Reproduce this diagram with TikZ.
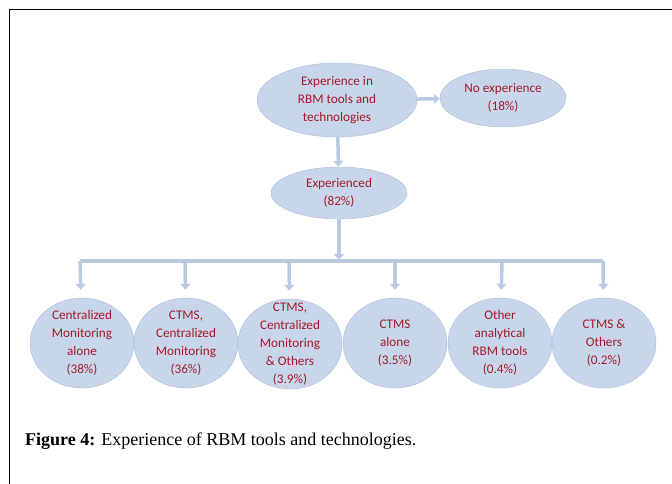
\documentclass[tikz,border=0pt]{standalone}
\usepackage{fontspec}
\setmainfont{Liberation Serif}
\newfontfamily\bubblefont{Carlito}
\usetikzlibrary{shapes.geometric,arrows.meta}

\definecolor{bubblefill}{RGB}{199,214,235}
\definecolor{bubbleline}{RGB}{165,187,215}
\definecolor{linkblue}{RGB}{184,203,227}
\definecolor{labelred}{RGB}{165,25,40}

\begin{document}
\begin{tikzpicture}[
    x=1pt, y=-1pt,
    >={Triangle[length=6pt, width=10pt]},
    bubble/.style={ellipse, draw=bubbleline, fill=bubblefill, inner sep=0pt, align=center,
                   text=labelred, font=\bubblefont\fontsize{13.2}{18}\selectfont},
    top/.style={bubble, minimum width=160pt, minimum height=74pt},
    mid/.style={bubble, minimum width=126pt, minimum height=58pt},
    leaf/.style={bubble, inner ysep=-14pt, minimum width=104pt, minimum height=90pt},
    link/.style={draw=linkblue, line width=3.5pt},
]
  \useasboundingbox (0,0) rectangle (672,484);
  \draw [line width=1.5pt] (9.5,484) -- (9.5,9.5) -- (672,9.5);

  % upper part of the tree
  \node [top] (rbm)   at (337,100) {Experience in\\RBM tools and\\technologies};
  \node [mid] (noexp) at (503,98)  {No experience\\(18\%)}
                                      edge [link, <-] (rbm);
  \node [bubble, minimum width=136pt, minimum height=52pt]
              (exper) at (339,193) {Experienced\\(82\%)}
                                      edge [link, <-] (rbm);

  % the bar and its stubs
  \coordinate (hub) at (339,261);
  \coordinate (s1)  at (80,261);
  \coordinate (s2)  at (185,261);
  \coordinate (s3)  at (289,261);
  \coordinate (s4)  at (395,261);
  \coordinate (s5)  at (502,261);
  \coordinate (s6)  at (603,261);
  \draw [link] (s1) -- (s6);
  \draw [link, ->, shorten >=1pt] (exper) -- (hub);

  % outcomes
  \node [leaf] (cmalone)  at (82,343)  {Centralized\\Monitoring\\alone\\(38\%)}
                                       edge [link, <-, shorten <=8pt] (s1);
  \node [leaf] (ctmscm)   at (186,343) {CTMS,\\Centralized\\Monitoring\\(36\%)}
                                       edge [link, <-, shorten <=8pt] (s2);
  \node [leaf, inner ysep=-24pt]
               (ctmsall)  at (290,344) {CTMS,\\Centralized\\Monitoring\\\& Others\\(3.9\%)}
                                       edge [link, <-, shorten <=8pt] (s3);
  \node [leaf] (ctmsonly) at (395,343) {CTMS\\alone\\(3.5\%)}
                                       edge [link, <-, shorten <=8pt] (s4);
  \node [leaf] (other)    at (500,343) {Other\\analytical\\RBM tools\\(0.4\%)}
                                       edge [link, <-, shorten <=8pt] (s5);
  \node [leaf] (ctmsoth)  at (604,343) {CTMS \&\\Others\\(0.2\%)}
                                       edge [link, <-, shorten <=8pt] (s6);

  \node [anchor=base west, font=\fontsize{18}{22}\selectfont, inner sep=0pt]
        (caption) at (25,445) {\textbf{Figure 4:} Experience of RBM tools and technologies.};
\end{tikzpicture}
\end{document}
